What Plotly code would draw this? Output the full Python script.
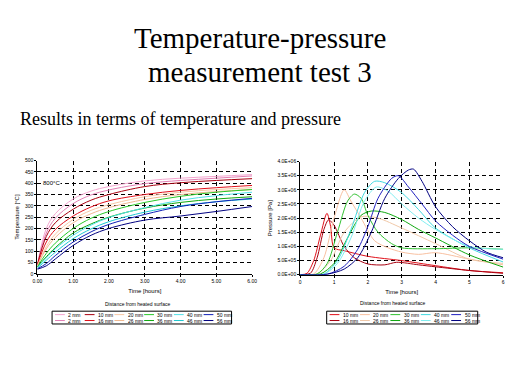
import plotly.graph_objects as go

W, H = 519, 389

# ---------------- data: temperature chart ----------------
temp_time = [0, 0.25, 0.5, 1, 1.5, 2, 3, 4, 5, 6]
temp_names = ["2 mm", "2 mm", "10 mm", "16 mm", "20 mm", "26 mm",
              "30 mm", "36 mm", "40 mm", "46 mm", "50 mm", "56 mm"]
temp_colors = ["#f4a6cf", "#e27fb4", "#a80010", "#e0101a", "#f8c8a4", "#f0b890",
               "#28c828", "#10a810", "#50e0e8", "#20c8d0", "#1020b8", "#000080"]
temp_2a = [40, 200, 265, 330, 365, 385, 410, 422, 430, 438]
temp_2b = [40, 180, 245, 310, 348, 370, 398, 412, 422, 432]
temp_10 = [40, 165, 225, 285, 325, 350, 385, 402, 412, 420]
temp_16 = [38, 140, 195, 255, 295, 322, 350, 368, 380, 390]
temp_20 = [35, 120, 175, 240, 280, 305, 340, 360, 372, 380]
temp_26 = [35, 110, 160, 225, 265, 292, 328, 350, 363, 372]
temp_30 = [30, 90, 135, 200, 245, 275, 315, 342, 360, 372]
temp_36 = [30, 75, 115, 180, 220, 250, 290, 315, 330, 340]
temp_40 = [28, 70, 110, 170, 215, 248, 292, 325, 345, 360]
temp_46 = [25, 60, 95, 155, 198, 230, 272, 300, 318, 330]
temp_50 = [22, 45, 80, 140, 185, 218, 262, 297, 318, 333]
temp_56 = [20, 35, 65, 125, 170, 200, 237, 255, 275, 297]
temp_series = [temp_2a, temp_2b, temp_10, temp_16, temp_20, temp_26,
               temp_30, temp_36, temp_40, temp_46, temp_50, temp_56]

# ---------------- data: pressure chart (values in 1e6 Pa) ----------------
pres_names = ["10 mm", "16 mm", "20 mm", "26 mm", "30 mm", "36 mm",
              "40 mm", "46 mm", "50 mm", "56 mm"]
pres_colors = ["#e0101a", "#a80010", "#f8c0a0", "#f0c8a8", "#30c030", "#10a810",
               "#40d8e0", "#80eef0", "#2020c0", "#000080"]
p10_t = [0, 0.2, 0.4, 0.6, 0.79, 0.9, 1.0, 1.3, 2, 3, 4, 5, 6]
p10_v = [0, 0.05, 0.5, 1.4, 2.17, 1.7, 0.95, 0.85, 0.65, 0.5, 0.32, 0.15, 0.07]
p16_t = [0, 0.3, 0.5, 0.7, 0.84, 1.0, 1.3, 1.6, 2.0, 2.5, 2.85, 3.5, 4, 5, 6]
p16_v = [0, 0.05, 0.6, 1.6, 1.94, 1.75, 1.0, 0.6, 0.38, 0.35, 0.44, 0.35, 0.28, 0.15, 0.05]
p20_t = [0, 0.4, 0.7, 1.0, 1.3, 1.5, 1.8, 2.2, 2.6, 3, 3.5, 4, 5, 6]
p20_v = [0, 0.03, 0.6, 2.0, 3.0, 2.6, 2.0, 1.2, 0.95, 0.8, 0.72, 0.78, 0.55, 0.35]
p26_t = [0, 0.5, 0.9, 1.3, 1.8, 2.3, 3, 4, 5, 6]
p26_v = [0, 0.03, 0.5, 1.5, 2.05, 2.0, 1.65, 1.1, 0.55, 0.4]
p30_t = [0, 0.5, 0.8, 1.1, 1.4, 1.6, 1.8, 2.0, 2.3, 2.7, 3, 4, 5, 6]
p30_v = [0, 0.03, 0.4, 1.5, 2.6, 2.85, 2.7, 2.1, 1.5, 1.1, 0.95, 0.92, 0.95, 0.9]
p36_t = [0, 0.6, 1.0, 1.4, 1.8, 2.1, 2.5, 3, 3.5, 4, 5, 6]
p36_v = [0, 0.03, 0.4, 1.3, 2.1, 2.25, 2.2, 1.95, 1.6, 1.3, 0.7, 0.27]
p40_t = [0, 0.7, 1.1, 1.5, 1.9, 2.2, 2.5, 3, 3.5, 4, 5, 6]
p40_v = [0, 0.03, 0.5, 1.6, 2.9, 3.3, 3.25, 2.9, 2.3, 1.65, 0.95, 0.45]
p46_t = [0, 0.7, 1.1, 1.5, 1.9, 2.25, 2.6, 3, 3.5, 4, 5, 6]
p46_v = [0, 0.02, 0.4, 1.3, 2.6, 3.1, 2.95, 2.5, 2.0, 1.6, 1.0, 0.9]
p50_t = [0, 0.8, 1.3, 1.7, 2.0, 2.3, 2.7, 2.9, 3.2, 3.6, 4, 4.5, 5, 6]
p50_v = [0, 0.02, 0.3, 0.9, 1.7, 2.7, 3.4, 3.5, 3.1, 2.5, 1.9, 1.4, 1.0, 0.55]
p56_t = [0, 0.8, 1.3, 1.7, 2.1, 2.5, 2.9, 3.2, 3.35, 3.6, 4, 4.5, 5, 5.5, 6]
p56_v = [0, 0.02, 0.2, 0.6, 1.5, 2.7, 3.4, 3.7, 3.73, 3.3, 2.4, 1.7, 1.2, 0.8, 0.6]
pres_series = [(p10_t, p10_v), (p16_t, p16_v), (p20_t, p20_v), (p26_t, p26_v),
               (p30_t, p30_v), (p36_t, p36_v), (p40_t, p40_v), (p46_t, p46_v),
               (p50_t, p50_v), (p56_t, p56_v)]

temp_yticks = list(range(0, 501, 50))
temp_xticks = [0, 1, 2, 3, 4, 5, 6]
pres_yticks = [i * 0.5e6 for i in range(9)]
pres_xticks = [0, 1, 2, 3, 4, 5, 6]

title_lines = ["Temperature-pressure", "measurement test 3"]
subtitle = "Results in terms of temperature and pressure"
legend_title = "Distance from heated surface"


def px(x):
    return x / W


def py(y):
    return 1 - y / H


fig = go.Figure()

for name, color, vals in zip(temp_names, temp_colors, temp_series):
    fig.add_trace(go.Scatter(x=temp_time, y=vals, mode="lines", name=name,
                             line=dict(color=color, width=1, shape="spline"),
                             xaxis="x", yaxis="y", showlegend=False))

for name, color, (tt, vv) in zip(pres_names, pres_colors, pres_series):
    fig.add_trace(go.Scatter(x=tt, y=[v * 1e6 for v in vv], mode="lines", name=name,
                             line=dict(color=color, width=1, shape="spline", smoothing=0.8),
                             xaxis="x2", yaxis="y2", showlegend=False))

tickfont = dict(family="Liberation Sans, Arial", size=5, color="black")
axcommon = dict(showline=True, linecolor="black", linewidth=1, ticks="outside",
                ticklen=2, tickcolor="black", tickfont=tickfont, showgrid=True,
                gridcolor="black", gridwidth=1, griddash="4px,3px", zeroline=False,
                mirror=False)
titlefont = dict(size=6, family="Liberation Sans", color="black")

fig.update_layout(
    width=W, height=H, autosize=False,
    margin=dict(l=0, r=0, t=0, b=0),
    paper_bgcolor="white", plot_bgcolor="white",
    xaxis=dict(domain=[px(33), px(252)], range=[0, 6], tickvals=temp_xticks,
               ticktext=[f"{v:.2f}" for v in temp_xticks], anchor="y",
               title=dict(text="Time [hours]", font=titlefont, standoff=6),
               **axcommon),
    yaxis=dict(domain=[py(275), py(160)], range=[0, 500], tickvals=temp_yticks, anchor="x",
               title=dict(text="Temperature [°C]", font=titlefont, standoff=4),
               **axcommon),
    xaxis2=dict(domain=[px(301), px(508)], range=[0, 6], tickvals=pres_xticks, anchor="y2",
                title=dict(text="Time [hours]", font=titlefont, standoff=6),
                **axcommon),
    yaxis2=dict(domain=[py(276), py(161)], range=[0, 4e6], tickvals=pres_yticks,
                ticktext=[f"{v:.1E}" for v in pres_yticks], anchor="x2",
                title=dict(text="Pressure [Pa]", font=titlefont, standoff=4),
                **axcommon),
)

serif = "Liberation Serif, Times New Roman, serif"
annotations = [
    dict(text=title_lines[0], x=px(260), y=py(36), xref="paper", yref="paper",
         xanchor="center", yanchor="middle",
         showarrow=False, font=dict(family=serif, size=29, color="black")),
    dict(text=title_lines[1], x=px(260), y=py(70), xref="paper", yref="paper",
         xanchor="center", yanchor="middle",
         showarrow=False, font=dict(family=serif, size=29, color="black")),
    dict(text=subtitle, x=px(13), y=py(118), xref="paper", yref="paper", xanchor="left",
         yanchor="middle",
         showarrow=False, font=dict(family=serif, size=18, color="black")),
    dict(text="800°C", x=0.14, y=400, xref="x", yref="y", xanchor="left", yanchor="middle",
         bgcolor="white", borderpad=0,
         showarrow=False, font=dict(family="Liberation Sans", size=6, color="black")),
]

shapes = []


def add_legend(names, colors, x0, x1, y0, y1, title_x, title_y, step):
    annotations.append(dict(text=legend_title, x=px(title_x), y=py(title_y), xref="paper",
                            yref="paper", showarrow=False, xanchor="center", yanchor="middle",
                            font=dict(family="Liberation Sans", size=5, color="black")))
    shapes.append(dict(type="rect", xref="paper", yref="paper", x0=px(x0), x1=px(x1),
                       y0=py(y1), y1=py(y0), line=dict(color="black", width=1)))
    ncol = len(names) // 2
    rows_y = [y0 + 3.5, y0 + 9.5]
    for r in range(2):
        for c in range(ncol):
            i = c * 2 + r
            lx = x0 + 3 + c * step
            shapes.append(dict(type="line", xref="paper", yref="paper", x0=px(lx), x1=px(lx + 10),
                               y0=py(rows_y[r]), y1=py(rows_y[r]),
                               line=dict(color=colors[i], width=1)))
            annotations.append(dict(text=names[i], x=px(lx + 11.5), y=py(rows_y[r]),
                                    xref="paper", yref="paper", xanchor="left",
                                    yanchor="middle", showarrow=False,
                                    font=dict(family="Liberation Sans", size=5, color="black")))


add_legend(temp_names, temp_colors, 48, 231, 313, 326, 136, 306, 30.3)
add_legend(pres_names, pres_colors, 328, 482, 313, 326, 396, 305, 31)

fig.update_layout(annotations=annotations, shapes=shapes)

fig.write_html("out.html", include_plotlyjs=True, full_html=True,
               config={"displayModeBar": False},
               post_script="document.body.style.margin='0';document.body.style.overflow='hidden';")
